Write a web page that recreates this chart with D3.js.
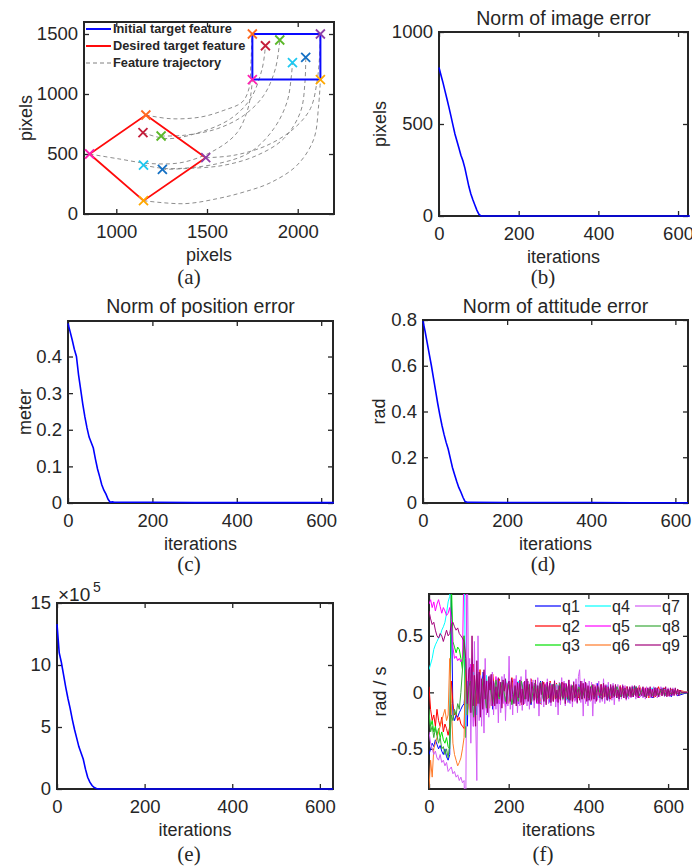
<!DOCTYPE html>
<html>
<head>
<meta charset="utf-8">
<script src="https://cdn.jsdelivr.net/npm/d3@7"></script>
<style>
  body { margin: 0; background: #fff; }
  svg text { font-family: "Liberation Sans", Arial, Helvetica, sans-serif; fill: #262626; }
</style>
</head>
<body>
<svg id="fig" width="692" height="866"></svg>
<script>
// ---------- (a) feature points in the image plane ----------
const featureColors = ["#ff6a1f", "#ff1fb0", "#8e3fa8", "#ffa800", "#c41e3a", "#5cb82a", "#1ec8f0", "#1470c4"];
const initialX = [1750, 1750, 2125, 2125, 1822, 1901, 1971, 2044];
const initialY = [1500, 1120, 1500, 1120, 1402, 1450, 1261, 1306];
const desiredX = [1163, 853, 1493, 1150, 1147, 1247, 1150, 1254];
const desiredY = [825, 500, 469, 111, 678, 650, 408, 372];
// waypoints of each feature trajectory (desired end -> initial end)
const trajectories = [
  [[1163,825],[1300,794],[1465,808],[1593,864],[1694,933],[1731,1044],[1742,1250],[1748,1500]],
  [[853,500],[1007,461],[1190,420],[1374,433],[1557,544],[1667,680],[1720,850],[1742,1000],[1750,1120]],
  [[1493,469],[1648,489],[1831,572],[1978,711],[2070,878],[2106,1100],[2120,1300],[2125,1500]],
  [[1150,111],[1374,86],[1557,128],[1703,183],[1850,261],[1996,406],[2088,622],[2115,900],[2125,1120]],
  [[1147,678],[1282,628],[1465,683],[1630,794],[1740,961],[1804,1211],[1822,1402]],
  [[1247,650],[1374,656],[1557,711],[1703,822],[1813,989],[1877,1211],[1901,1450]],
  [[1150,408],[1282,378],[1557,419],[1740,517],[1868,711],[1941,933],[1965,1150],[1971,1261]],
  [[1254,372],[1374,378],[1593,406],[1776,489],[1923,628],[2015,850],[2040,1100],[2044,1306]]
];
const legendA = ["Initial target feature", "Desired target feature", "Feature trajectory"];

// ---------- (b)-(e) error norms ----------
const errIter = [0,5,10,15,20,25,30,35,40,45,50,55,60,65,70,75,80,85,90,95,100,105,110,200,300,400,500,630];
const imageError = [807,765,725,680,636,590,543,494,446,408,370,330,300,260,210,160,120,88,60,32,10,1,0,0,0,0,0,0];
const positionError = [0.49,0.468,0.445,0.42,0.40,0.35,0.31,0.27,0.235,0.205,0.18,0.165,0.15,0.12,0.093,0.072,0.05,0.035,0.024,0.01,0.002,0.003,0.002,0.002,0.001,0.001,0.001,0.001];
const attitudeError = [0.795,0.75,0.70,0.65,0.60,0.545,0.49,0.435,0.385,0.34,0.30,0.265,0.235,0.195,0.155,0.125,0.095,0.068,0.048,0.025,0.006,0.003,0.003,0.002,0.002,0.002,0.001,0.001];
const costValue = [1330000,1100000,1020000,920000,820000,730000,650000,560000,480000,410000,340000,290000,240000,160000,95000,55000,28000,12000,4000,1000,0,0,0,0,0,0,0,0];

// ---------- (f) joint velocities q1..q9 ----------
const jointNames = ["q1","q2","q3","q4","q5","q6","q7","q8","q9"];
const jointColors = ["#0000ff","#ff0000","#00e000","#00ffff","#ff00ff","#ff7a28","#d25cf5","#3aa83a","#a2007a"];
const earlyStep = 4;   // iterations 0..100
const q1Early = [-0.55,-0.5,-0.45,-0.48,-0.42,-0.46,-0.5,-0.47,-0.52,-0.55,-0.5,-0.57,-0.6,-0.55,0.9,-0.2,-0.25,-0.2,-0.22,-0.18,-0.15,-0.12,-0.1,0.05,-0.3,0.1];
const q2Early = [0.05,-0.15,-0.25,-0.2,-0.3,-0.15,-0.25,-0.3,-0.22,-0.35,-0.28,-0.32,-0.38,-0.3,0.1,-0.1,-0.2,-0.18,-0.25,-0.22,-0.28,-0.3,-0.32,0.2,-0.1,0.05];
const q3Early = [-0.2,-0.3,-0.25,-0.35,-0.3,-0.38,-0.32,-0.4,-0.35,-0.42,-0.45,-0.4,-0.48,-0.5,1.0,0.45,0.4,0.35,0.4,0.38,0.3,0.2,0.5,-0.4,0.1,0.0];
const q4Early = [0.2,0.25,0.3,0.38,0.42,0.45,0.48,0.5,0.55,0.58,0.62,0.7,0.8,0.85,1.5,1.5,1.5,1.5,1.5,1.5,1.5,1.5,1.5,-0.3,0.1,0.0];
const q5Early = [0.78,0.82,0.75,0.8,0.72,0.78,0.82,0.76,0.7,0.75,0.72,0.68,0.7,0.75,0.65,0.4,0.3,0.32,0.28,0.3,0.27,0.3,1.2,1.5,-0.2,0.1];
const q6Early = [-0.85,-0.6,-0.75,-0.5,-0.45,-0.4,-0.35,-0.3,-0.25,-0.2,-0.15,-0.25,-0.2,0.3,-0.1,-0.45,-0.55,-0.6,-0.65,-0.62,-0.58,-0.5,-0.4,0.2,-0.2,0.05];
const q7Early = [-0.35,-0.45,-0.5,-0.55,-0.52,-0.58,-0.6,-0.55,-0.62,-0.6,-0.65,-0.62,-0.7,-0.68,-0.66,-0.72,-0.7,-0.75,-0.73,-0.78,-0.75,-0.8,-0.78,-1.2,1.2,-0.1];
const q8Early = [-0.15,-0.35,-0.3,-0.4,-0.32,-0.38,-0.45,-0.4,-0.5,-0.48,-0.55,-0.5,-0.58,-0.45,-0.2,-0.25,-0.15,-0.2,-0.1,-0.15,0.0,0.2,0.5,0.3,-0.2,0.05];
const q9Early = [0.72,0.65,0.6,0.62,0.55,0.5,0.48,0.52,0.5,0.45,0.5,0.55,0.5,0.52,0.6,0.62,0.58,0.55,0.57,0.52,0.5,0.48,0.45,0.3,-0.1,0.2];

// fine samples (every 3 iterations from 102) for the two top-drawn joints
const fineStart = 102, fineStep = 3;
const q7Late = [0.3,-0.45,0.2,-0.3,0.45,-0.2,-0.78,0.5,-0.25,0.15,-0.3,0.12,-0.36,0.3,-0.2,0.1,-0.22,0.15,-0.12,0.18,
  -0.2,0.08,-0.15,0.12,-0.27,0.1,-0.18,0.14,-0.1,0.16,-0.25,0.08,-0.12,0.32,-0.15,0.1,-0.2,0.12,-0.1,0.15,
  -0.18,0.08,-0.12,0.14,-0.16,0.09,-0.1,0.2,-0.12,0.1,-0.15,0.12,-0.08,0.11,-0.14,0.07,-0.1,0.13,-0.21,0.09,
  -0.11,0.1,-0.13,0.08,-0.09,0.12,-0.1,0.09,-0.12,0.07,-0.08,0.11,-0.13,0.06,-0.2,0.09,-0.11,0.13,-0.07,0.1,
  -0.12,0.08,-0.09,0.11,-0.1,0.07,-0.13,0.1,-0.08,0.12,-0.1,0.14,0.2,-0.09,0.1,-0.21,0.12,-0.1,0.08,-0.12,
  0.1,-0.08,0.09,-0.21,0.07,-0.1,0.08,-0.07,0.1,-0.09,0.06,-0.08,0.12,-0.1,0.07,-0.06,0.09,-0.08,0.05,-0.07,
  0.08,-0.11,0.06,-0.05,0.07,-0.08,0.05,-0.06,0.07,-0.05,0.06,-0.07,0.05,-0.06,0.04,-0.05,0.06,-0.04,0.05,-0.06,
  0.04,-0.05,0.06,-0.04,0.03,-0.05,0.04,-0.06,0.05,-0.03,0.04,-0.05,0.03,-0.04,0.05,-0.03,0.04,-0.05,0.03,-0.04,
  0.05,-0.03,0.04,-0.04,0.03,-0.03,0.04,-0.04,0.03,-0.03,0.04,-0.02,0.03,-0.03,0.02,-0.02,0.01,0];
const q9Late = [0.22,-0.18,0.5,-0.12,0.15,-0.3,0.28,-0.1,0.18,-0.22,
  0.12,-0.15,0.2,-0.06,0.1,-0.18,0.14,0.02,0.16,-0.12,
  0.1,-0.12,0.05,-0.1,0.13,-0.04,0.09,-0.14,0.11,0.01,0.12,-0.1,0.07,
  0.1,-0.08,0.12,-0.02,-0.1,0.06,-0.12,0.09,-0.05,0.11,-0.09,0.03,-0.11,0.1,-0.06,0.12,-0.08,
  0.07,-0.1,0.09,0.01,-0.07,0.11,-0.09,0.06,-0.1,0.08,-0.02,0.1,-0.08,0.07,-0.11,0.09,-0.05,
  0.08,-0.09,0.07,-0.08,0.1,-0.06,0.02,-0.09,0.06,-0.07,0.09,-0.05,0.08,-0.1,0.07,-0.06,0.11,
  -0.07,0.06,-0.08,0.09,-0.05,0.07,-0.09,0.03,-0.07,0.1,-0.06,0.08,-0.05,0.09,-0.08,0.06,-0.07,
  0.05,-0.06,0.07,-0.06,0.05,-0.08,0.06,0.0,-0.05,0.07,-0.06,0.08,-0.04,0.06,-0.07,0.05,-0.06,
  0.07,-0.05,0.06,-0.04,0.07,-0.05,0.02,-0.06,0.05,-0.04,0.06,-0.05,0.04,-0.06,0.05,-0.03,0.05,
  -0.04,0.05,-0.04,0.06,-0.03,0.04,-0.05,0.04,0.0,-0.03,0.05,-0.04,0.03,-0.05,0.04,-0.03,0.05,
  -0.04,0.03,-0.05,0.04,-0.03,0.04,-0.04,0.01,0.03,-0.03,0.04,-0.03,0.05,-0.04,0.03,-0.03,0.04,
  -0.03,0.03,-0.03,0.04,-0.02,0.03,-0.03,0.02,0.0];

// coarser samples (every 8 iterations from 104) for joints drawn underneath
const coarseStart = 104, coarseStep = 8;
const q1Late = [0.15,-0.2,0.1,-0.12,0.18,-0.08,0.12,-0.15,0.08,-0.1,0.06,-0.09,0.11,-0.05,0.07,-0.1,0.09,-0.06,0.08,-0.11,
  0.05,-0.07,0.1,-0.08,0.06,-0.09,0.07,-0.06,0.08,-0.05,0.06,-0.09,0.05,-0.06,0.07,-0.04,0.06,-0.07,0.05,-0.05,
  0.08,-0.06,0.04,-0.07,0.05,-0.04,0.05,-0.03,0.04,-0.05,0.03,-0.04,0.05,-0.03,0.04,-0.04,0.03,-0.05,0.04,-0.03,
  0.04,-0.03,0.03,-0.04,0.02,-0.03];
const q2Late = [-0.18,0.25,-0.1,0.2,-0.14,0.12,-0.08,0.16,-0.1,0.12,-0.07,0.1,-0.09,0.13,-0.06,0.09,-0.11,0.08,-0.05,0.12,
  -0.08,0.07,-0.1,0.09,-0.06,0.1,-0.07,0.08,-0.05,0.09,-0.06,0.07,-0.08,0.06,-0.05,0.08,-0.06,0.05,-0.07,0.06,
  -0.04,0.07,-0.05,0.05,-0.06,0.04,-0.05,0.06,-0.04,0.05,-0.03,0.05,-0.04,0.06,-0.03,0.04,-0.05,0.03,-0.04,0.05,
  -0.03,0.04,-0.03,0.03,-0.02,0.02];
const q3Late = [0.2,-0.15,0.12,-0.18,0.1,-0.1,0.14,-0.08,0.09,-0.07,0.11,-0.09,0.06,-0.1,0.08,-0.06,0.07,-0.09,0.1,-0.05,
  0.08,-0.07,0.06,-0.08,0.07,-0.05,0.06,-0.07,0.05,-0.06,0.08,-0.04,0.05,-0.06,0.04,-0.05,0.06,-0.04,0.05,-0.05,
  0.04,-0.06,0.05,-0.04,0.03,-0.05,0.04,-0.03,0.05,-0.04,0.03,-0.04,0.04,-0.03,0.03,-0.04,0.03,-0.03,0.04,-0.02,
  0.03,-0.03,0.02,-0.02,0.02,-0.01];
const q4Late = [-0.12,0.18,-0.2,0.1,-0.08,0.15,-0.12,0.07,-0.1,0.08,-0.06,0.12,-0.08,0.05,-0.09,0.1,-0.07,0.06,-0.08,0.09,
  -0.05,0.07,-0.09,0.06,-0.05,0.08,-0.06,0.07,-0.04,0.06,-0.07,0.05,-0.06,0.05,-0.04,0.06,-0.05,0.04,-0.06,0.05,
  -0.05,0.04,-0.04,0.06,-0.03,0.04,-0.05,0.03,-0.04,0.04,-0.03,0.05,-0.03,0.03,-0.04,0.03,-0.02,0.04,-0.03,0.03,
  -0.02,0.03,-0.02,0.02,-0.02,0.01];
const q5Late = [0.25,-0.3,0.15,-0.2,0.12,-0.16,0.1,-0.12,0.14,-0.1,0.08,-0.13,0.1,-0.07,0.12,-0.09,0.06,-0.1,0.09,-0.08,
  0.07,-0.1,0.08,-0.06,0.09,-0.07,0.06,-0.08,0.07,-0.05,0.08,-0.06,0.05,-0.07,0.06,-0.05,0.07,-0.04,0.05,-0.06,
  0.05,-0.04,0.06,-0.05,0.04,-0.05,0.04,-0.04,0.05,-0.03,0.04,-0.04,0.03,-0.05,0.04,-0.03,0.03,-0.04,0.03,-0.03,
  0.03,-0.02,0.02,-0.03,0.02,-0.01];
const q6Late = [-0.22,0.15,-0.12,0.2,-0.1,0.08,-0.14,0.1,-0.06,0.11,-0.08,0.07,-0.1,0.09,-0.05,0.08,-0.09,0.06,-0.07,0.1,
  -0.06,0.05,-0.08,0.07,-0.05,0.06,-0.08,0.05,-0.06,0.07,-0.04,0.06,-0.05,0.07,-0.04,0.05,-0.06,0.04,-0.05,0.06,
  -0.03,0.05,-0.04,0.04,-0.05,0.03,-0.04,0.05,-0.03,0.04,-0.04,0.03,-0.03,0.05,-0.03,0.03,-0.04,0.02,-0.03,0.03,
  -0.03,0.02,-0.02,0.03,-0.02,0.01];
const q8Late = [0.1,-0.22,0.16,-0.1,0.12,-0.14,0.08,-0.1,0.11,-0.06,0.09,-0.08,0.07,-0.11,0.05,-0.08,0.1,-0.06,0.07,-0.09,
  0.06,-0.05,0.09,-0.07,0.05,-0.06,0.07,-0.05,0.08,-0.06,0.04,-0.07,0.06,-0.04,0.05,-0.06,0.04,-0.05,0.06,-0.04,
  0.05,-0.03,0.04,-0.05,0.04,-0.03,0.05,-0.04,0.03,-0.04,0.04,-0.03,0.05,-0.03,0.03,-0.04,0.03,-0.03,0.02,-0.03,
  0.03,-0.02,0.02,-0.02,0.01,-0.01];
const jointEarly = [q1Early,q2Early,q3Early,q4Early,q5Early,q6Early,q7Early,q8Early,q9Early];
const jointLate = [q1Late,q2Late,q3Late,q4Late,q5Late,q6Late,q7Late,q8Late,q9Late];
const jointLateFine = [false,false,false,false,false,false,true,false,true];
const finalIter = 650;

// ---------- drawing ----------
const svg = d3.select("#fig");
const AXIS = "#262626";

function makePanel(p) {
  const x = d3.scaleLinear().domain(p.xDomain).range([p.left, p.right]);
  const y = d3.scaleLinear().domain(p.yDomain).range([p.bottom, p.top]);
  const g = svg.append("g");
  const ax = g.append("g");
  const fmtX = p.xFormat || d3.format("d");
  const fmtY = p.yFormat || (d => String(d));
  ax.append("g").attr("transform", `translate(0,${p.bottom})`)
    .call(d3.axisBottom(x).tickValues(p.xTicks).tickSize(-5).tickSizeOuter(0).tickPadding(11).tickFormat(fmtX));
  ax.append("g").attr("transform", `translate(0,${p.top})`)
    .call(d3.axisTop(x).tickValues(p.xTicks).tickSize(-5).tickSizeOuter(0).tickFormat(""));
  ax.append("g").attr("transform", `translate(${p.left},0)`)
    .call(d3.axisLeft(y).tickValues(p.yTicks).tickSize(-5).tickSizeOuter(0).tickPadding(6).tickFormat(fmtY));
  ax.append("g").attr("transform", `translate(${p.right},0)`)
    .call(d3.axisRight(y).tickValues(p.yTicks).tickSize(-5).tickSizeOuter(0).tickFormat(""));
  ax.selectAll(".domain").remove();
  ax.selectAll("line").attr("stroke", AXIS).attr("stroke-width", 1.3);
  ax.selectAll("text").attr("font-size", 18.5).attr("fill", AXIS)
    .attr("font-family", "Liberation Sans, Arial, sans-serif");
  g.append("rect").attr("x", p.left).attr("y", p.top)
    .attr("width", p.right - p.left).attr("height", p.bottom - p.top)
    .attr("fill", "none").attr("stroke", AXIS).attr("stroke-width", 2);

  const plot = g.append("g");
  if (p.clip) {
    const id = "clip-" + p.id;
    svg.append("clipPath").attr("id", id).append("rect")
      .attr("x", p.left).attr("y", p.top)
      .attr("width", p.right - p.left).attr("height", p.bottom - p.top);
    plot.attr("clip-path", `url(#${id})`);
  }
  if (p.title) {
    g.append("text").attr("x", (p.left + p.right) / 2).attr("y", p.titleY)
      .attr("text-anchor", "middle").attr("font-size", 19.5).text(p.title);
  }
  if (p.xLabel) {
    g.append("text").attr("x", (p.left + p.right) / 2).attr("y", p.bottom + 41)
      .attr("dy", "0.35em").attr("text-anchor", "middle").attr("font-size", 18).text(p.xLabel);
  }
  if (p.yLabel) {
    g.append("text").attr("transform", `translate(${p.yLabelX},${(p.top + p.bottom) / 2}) rotate(-90)`)
      .attr("dy", "0.35em").attr("text-anchor", "middle").attr("font-size", 18).text(p.yLabel);
  }
  g.append("text").attr("x", p.capX).attr("y", p.capY).attr("text-anchor", "middle")
    .attr("font-size", 21).style("font-family", "'Liberation Serif', 'Times New Roman', serif")
    .attr("fill", "#111").text(p.caption);
  return { x, y, g, plot };
}

// (a) image-plane feature motion
{
  const P = makePanel({ id: "a", left: 84, right: 334, top: 22, bottom: 214,
    xDomain: [822, 2200], yDomain: [0, 1600], xTicks: [1000, 1500, 2000], yTicks: [0, 500, 1000, 1500],
    xLabel: "pixels", yLabel: "pixels", yLabelX: 26, caption: "(a)", capX: 189, capY: 284 });
  const line = d3.line().x(d => P.x(d[0])).y(d => P.y(d[1])).curve(d3.curveCatmullRom);
  trajectories.forEach(t => {
    P.plot.append("path").attr("d", line(t)).attr("fill", "none")
      .attr("stroke", "#808080").attr("stroke-width", 0.9).attr("stroke-dasharray", "4,3");
  });
  const corner = [0, 2, 3, 1];
  const poly = d3.line().x(d => P.x(d[0])).y(d => P.y(d[1]));
  P.plot.append("path").attr("d", poly(corner.map(i => [initialX[i], initialY[i]])) + "Z")
    .attr("fill", "none").attr("stroke", "#0a0aff").attr("stroke-width", 2);
  P.plot.append("path").attr("d", poly(corner.map(i => [desiredX[i], desiredY[i]])) + "Z")
    .attr("fill", "none").attr("stroke", "#ff0a0a").attr("stroke-width", 1.8);
  const cross = "M-4.5,-4.5L4.5,4.5M-4.5,4.5L4.5,-4.5";
  featureColors.forEach((c, i) => {
    [[initialX[i], initialY[i]], [desiredX[i], desiredY[i]]].forEach(pt => {
      P.plot.append("path").attr("d", cross)
        .attr("transform", `translate(${P.x(pt[0])},${P.y(pt[1])})`)
        .attr("stroke", c).attr("stroke-width", 1.8).attr("fill", "none");
    });
  });
  // legend
  const legStyles = [{ c: "#0a0aff", w: 2, d: null }, { c: "#ff0a0a", w: 2, d: null }, { c: "#808080", w: 1, d: "4,3" }];
  legendA.forEach((t, i) => {
    const yy = 29 + i * 17;
    P.g.append("line").attr("x1", 86).attr("x2", 111).attr("y1", yy).attr("y2", yy)
      .attr("stroke", legStyles[i].c).attr("stroke-width", legStyles[i].w)
      .attr("stroke-dasharray", legStyles[i].d);
    P.g.append("text").attr("x", 113).attr("y", yy).attr("dy", "0.35em")
      .attr("font-size", 12.8).attr("font-weight", "bold").attr("fill", "#000").text(t);
  });
}

// (b)-(e) convergence curves
function errorPanel(cfg, values) {
  const P = makePanel(cfg);
  const line = d3.line().x((d, i) => P.x(errIter[i])).y(d => P.y(d));
  P.plot.append("path").attr("d", line(values)).attr("fill", "none")
    .attr("stroke", "#0000ff").attr("stroke-width", 1.6);
  return P;
}
errorPanel({ id: "b", left: 439, right: 688, top: 32, bottom: 216, xDomain: [0, 625], yDomain: [0, 1000],
  xTicks: [0, 200, 400, 600], yTicks: [0, 500, 1000], title: "Norm of image error", titleY: 25,
  xLabel: "iterations", yLabel: "pixels", yLabelX: 380, caption: "(b)", capX: 543, capY: 284 }, imageError);
errorPanel({ id: "c", left: 68, right: 333, top: 321, bottom: 503, xDomain: [0, 628], yDomain: [0, 0.497],
  xTicks: [0, 200, 400, 600], yTicks: [0, 0.1, 0.2, 0.3, 0.4], title: "Norm of position error", titleY: 313,
  xLabel: "iterations", yLabel: "meter", yLabelX: 25, caption: "(c)", capX: 189, capY: 571 }, positionError);
errorPanel({ id: "d", left: 423, right: 688, top: 320, bottom: 503, xDomain: [0, 630], yDomain: [0, 0.8],
  xTicks: [0, 200, 400, 600], yTicks: [0, 0.2, 0.4, 0.6, 0.8], title: "Norm of attitude error", titleY: 313,
  xLabel: "iterations", yLabel: "rad", yLabelX: 379, caption: "(d)", capX: 543, capY: 571 }, attitudeError);
{
  const P = errorPanel({ id: "e", left: 57, right: 333, top: 603, bottom: 789, xDomain: [0, 630], yDomain: [0, 1500000],
    xTicks: [0, 200, 400, 600], yTicks: [0, 500000, 1000000, 1500000], yFormat: d => String(d / 100000),
    xLabel: "iterations", caption: "(e)", capX: 189, capY: 861 }, costValue);
  P.g.append("text").attr("x", 58).attr("y", 601).attr("font-size", 19).text("\u00d710");
  P.g.append("text").attr("x", 93).attr("y", 592).attr("font-size", 14).text("5");
}

// (f) joint velocity commands
{
  const P = makePanel({ id: "f", left: 429, right: 688, top: 594, bottom: 789, xDomain: [0, 650], yDomain: [-0.855, 0.87],
    xTicks: [0, 200, 400, 600], yTicks: [-0.5, 0, 0.5], yFormat: d => String(d), clip: true,
    xLabel: "iterations", yLabel: "rad / s", yLabelX: 380, caption: "(f)", capX: 543, capY: 861 });
  const line = d3.line().x(d => P.x(d[0])).y(d => P.y(d[1]));
  jointNames.forEach((name, k) => {
    const pts = jointEarly[k].map((v, i) => [i * earlyStep, v]);
    const start = jointLateFine[k] ? fineStart : coarseStart;
    const step = jointLateFine[k] ? fineStep : coarseStep;
    jointLate[k].forEach((v, i) => pts.push([start + i * step, v]));
    pts.push([finalIter, 0]);
    P.plot.append("path").attr("d", line(pts)).attr("fill", "none")
      .attr("stroke", jointColors[k]).attr("stroke-width", 1);
  });
  // legend, three columns
  const colX = [535, 585, 635];
  const rowY = [606, 626, 645];
  jointNames.forEach((name, k) => {
    const cx = colX[Math.floor(k / 3)], cy = rowY[k % 3];
    P.g.append("line").attr("x1", cx).attr("x2", cx + 26).attr("y1", cy).attr("y2", cy)
      .attr("stroke", jointColors[k]).attr("stroke-width", 1.2);
    P.g.append("text").attr("x", cx + 27).attr("y", cy).attr("dy", "0.35em")
      .attr("font-size", 16).attr("fill", "#000").text(name);
  });
}
</script>
</body>
</html>
